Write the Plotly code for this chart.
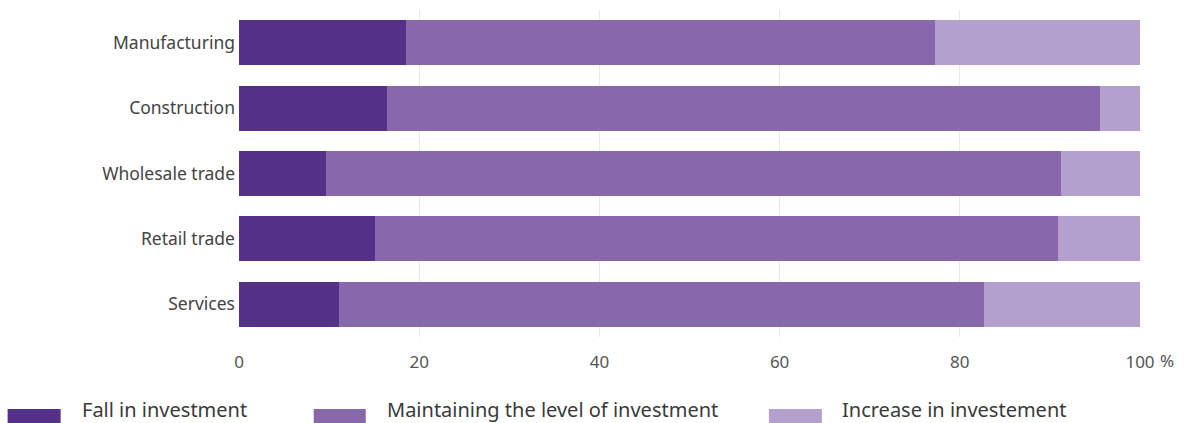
import plotly.graph_objects as go

# Share of firms by expected change in investment (%)
sectors = ["Manufacturing", "Construction", "Wholesale trade", "Retail trade", "Services"]
fall = [18.5, 16.4, 9.7, 15.1, 11.1]
maintain = [58.7, 79.2, 81.5, 75.8, 71.6]
increase = [22.8, 4.4, 8.8, 9.1, 17.3]

series_names = ["Fall in investment", "Maintaining the level of investment", "Increase in investement"]
series_values = [fall, maintain, increase]
colors = ["#553087", "#8867aa", "#b4a0cd"]

tick_vals = [0, 20, 40, 60, 80, 100]
tick_text = ["0", "20", "40", "60", "80", "100"]

FONT = "Noto Sans, Open Sans, sans-serif"

fig = go.Figure()
for name, vals, col in zip(series_names, series_values, colors):
    fig.add_trace(go.Bar(
        y=sectors, x=vals, name=name, orientation="h",
        marker=dict(color=col, line=dict(width=0)),
        showlegend=False,
        hovertemplate="%{y}: %{x}%<extra>" + name + "</extra>",
    ))

# custom legend row below the axis: wide swatches with labels
W, L, PW = 1184, 239.3, 900.7  # figure width, plot left edge, plot width (px)
def px2paper(px):
    return (px - L) / PW

swatch_px = [(8, 61), (314, 366), (769, 822)]
label_px = [80, 385, 840]
shapes = []
annotations = []
for (x0, x1), lx, name, col in zip(swatch_px, label_px, series_names, colors):
    shapes.append(dict(type="rect", xref="paper", yref="paper",
                       x0=px2paper(x0), x1=px2paper(x1), y0=-0.22, y1=-0.29,
                       fillcolor=col, line=dict(width=0), layer="above"))
    annotations.append(dict(xref="paper", yref="paper", x=px2paper(lx), y=-0.221,
                            xanchor="left", yanchor="middle", showarrow=False,
                            text=name, font=dict(family=FONT, size=20, color="#3a3a3a")))

# percent sign following the final tick label
annotations.append(dict(xref="x", yref="paper", x=100, y=0, yshift=-23, xshift=18,
                        xanchor="left", yanchor="middle", showarrow=False,
                        text="%", font=dict(family=FONT, size=17, color="#555555")))

fig.update_layout(
    barmode="stack",
    bargap=0.31,
    width=W, height=423,
    margin=dict(l=239, r=44, t=10, b=86),
    paper_bgcolor="white", plot_bgcolor="white",
    font=dict(family=FONT, size=17, color="#444444"),
    shapes=shapes,
    annotations=annotations,
    xaxis=dict(range=[0, 100], tickvals=tick_vals, ticktext=tick_text,
               showgrid=True, gridcolor="#e9e9ee", gridwidth=1,
               zeroline=False, showline=False, ticks="",
               ticklabelstandoff=13,
               tickfont=dict(family=FONT, size=17, color="#555555")),
    yaxis=dict(autorange="reversed", showgrid=False, zeroline=False,
               showline=False, ticks="", ticklabelstandoff=3,
               tickfont=dict(family=FONT, size=17.5, color="#444444")),
)

fig.write_html("out.html")
